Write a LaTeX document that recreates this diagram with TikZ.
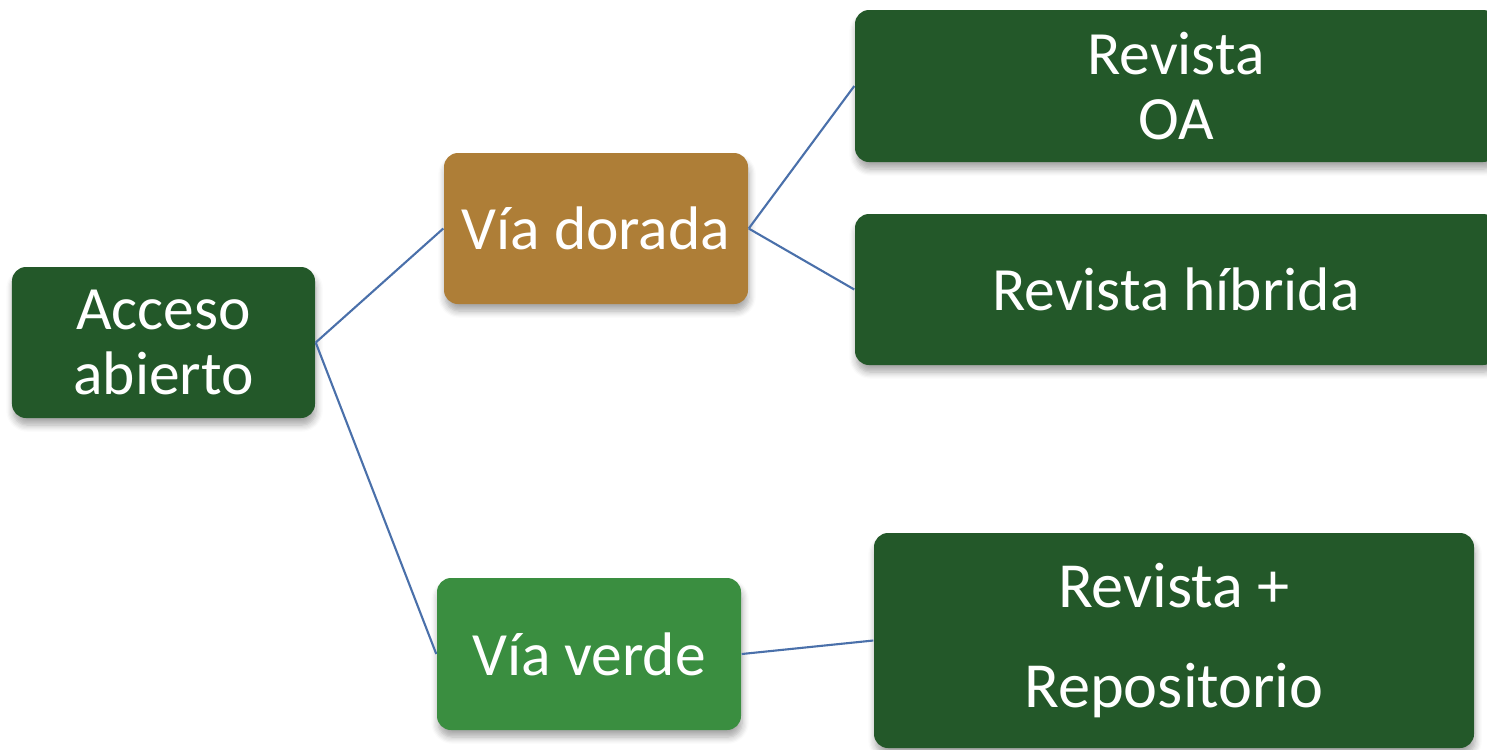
\documentclass[tikz,border=0pt]{standalone}
\usepackage{fontspec}
\setmainfont{Carlito}
\usetikzlibrary{shadows.blur}
\definecolor{color1}{RGB}{35,88,41}
\definecolor{color2}{RGB}{174,126,55}
\definecolor{color3}{RGB}{58,142,64}
\definecolor{color4}{RGB}{74,112,170}

\begin{document}
\begin{tikzpicture}
\tikzset{caja/.style={rectangle,rounded corners=0.14cm,fill=#1,text=white,align=center,inner sep=0pt,font=\fontsize{17.5}{18.6}\selectfont,blur shadow={shadow xshift=0.3pt,shadow yshift=-2pt,shadow blur steps=6,shadow opacity=35}},
linea/.style={draw=color4,line width=0.6pt}}
\useasboundingbox (0,0) rectangle (14.87,7.49);
\clip (0,0) rectangle (14.87,7.49);
% Nodos
\node [caja=color1, minimum width=3.03cm, minimum height=1.51cm] (acceso) at (1.635,4.065) {Acceso\\abierto};
\node [caja=color2, minimum width=3.04cm, minimum height=1.51cm] (dorada) at (5.96,5.205) {Vía dorada};
\node [caja=color3, minimum width=3.04cm, minimum height=1.52cm] (verde) at (5.89,0.95) {Vía verde};
\node [caja=color1, minimum width=6.42cm, minimum height=1.52cm] (revistaoa) at (11.76,6.63) {Revista\\OA};
\node [caja=color1, minimum width=6.42cm, minimum height=1.51cm] (hibrida) at (11.76,4.595) {Revista híbrida};
\node [caja=color1, minimum width=6.00cm, minimum height=2.15cm, font=\fontsize{18.3}{19.4}\selectfont] (repositorio) at (11.74,1.085) {Revista +\\[9pt]Repositorio};
% Lineas
\draw [linea] (acceso.east) -- (dorada.west);
\draw [linea] (acceso.east) -- (verde.west);
\draw [linea] (dorada.east) -- (revistaoa.west);
\draw [linea] (dorada.east) -- (hibrida.west);
\draw [linea] (verde.east) -- (repositorio.west);
\end{tikzpicture}
\end{document}
